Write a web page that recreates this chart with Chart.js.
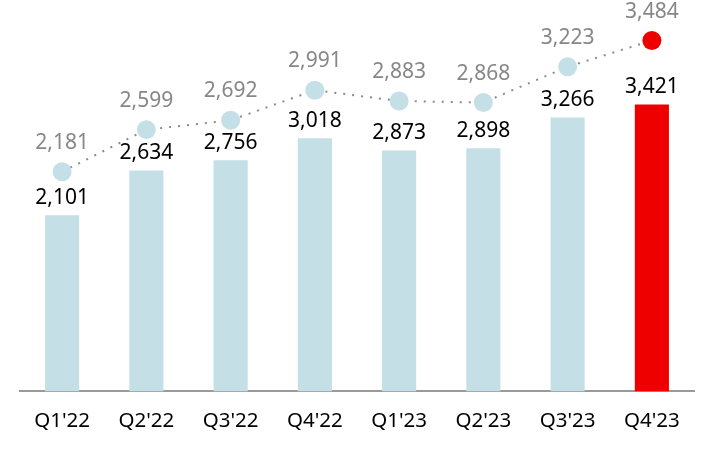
<!DOCTYPE html>
<html><head><meta charset="utf-8">
<script src="https://cdn.jsdelivr.net/npm/chart.js@4"></script>
<style>html,body{margin:0;padding:0;background:#fff}#wrap{width:714px;height:450px}</style>
</head><body><div id="wrap"><canvas id="c" width="714" height="450"></canvas></div>
<script>
const categories = ["Q1'22","Q2'22","Q3'22","Q4'22","Q1'23","Q2'23","Q3'23","Q4'23"];
const barValues = [2101,2634,2756,3018,2873,2898,3266,3421];
const lineValues = [2181,2599,2692,2991,2883,2868,3223,3484];

const barColors = barValues.map((v,i)=> i===barValues.length-1 ? '#ee0000' : '#c5dfe6');
const pointColors = lineValues.map((v,i)=> i===lineValues.length-1 ? '#ee0000' : '#c5dfe6');
const fmt = v => v.toLocaleString('en-US');

const labelPlugin = {
  id:'labels',
  afterDatasetsDraw(chart){
    const ctx = chart.ctx;
    ctx.save();
    ctx.font = '21px "Noto Sans"';
    ctx.textAlign = 'center';
    ctx.textBaseline = 'middle';
    chart.getDatasetMeta(1).data.forEach((el,i)=>{
      ctx.fillStyle = '#000';
      ctx.fillText(fmt(barValues[i]), el.x, el.y - 17);
    });
    chart.getDatasetMeta(0).data.forEach((el,i)=>{
      ctx.fillStyle = '#878787';
      ctx.fillText(fmt(lineValues[i]), el.x, el.y - 29);
    });
    ctx.restore();
  }
};

new Chart(document.getElementById('c'), {
  data:{
    labels: categories,
    datasets:[
      {type:'line', data: lineValues, yAxisID:'y2', borderColor:'#8a8a8a', borderWidth:2,
       borderDash:[2,7], pointRadius:9.5, pointHoverRadius:9.5, pointBackgroundColor:pointColors,
       pointBorderWidth:0, pointBorderColor:pointColors, fill:false, tension:0, order:0},
      {type:'bar', data: barValues, yAxisID:'y', backgroundColor: barColors,
       categoryPercentage:1, barPercentage:0.405, order:1}
    ]
  },
  options:{
    responsive:false, animation:false,
    layout:{padding:{left:20,right:20,top:10,bottom:0}},
    plugins:{legend:{display:false}, tooltip:{enabled:false}},
    scales:{
      x:{grid:{display:false, drawTicks:false}, border:{display:true,color:'#9a9a9a',width:2},
         ticks:{color:'#000', font:{family:'Noto Sans', size:20.5}, padding:17},
         afterFit(scale){ scale.height = scale.height; }},
      y:{display:false, min:0, max:4547},
      y2:{display:false, min:0, max:3787}
    }
  },
  plugins:[labelPlugin]
});
</script></body></html>
